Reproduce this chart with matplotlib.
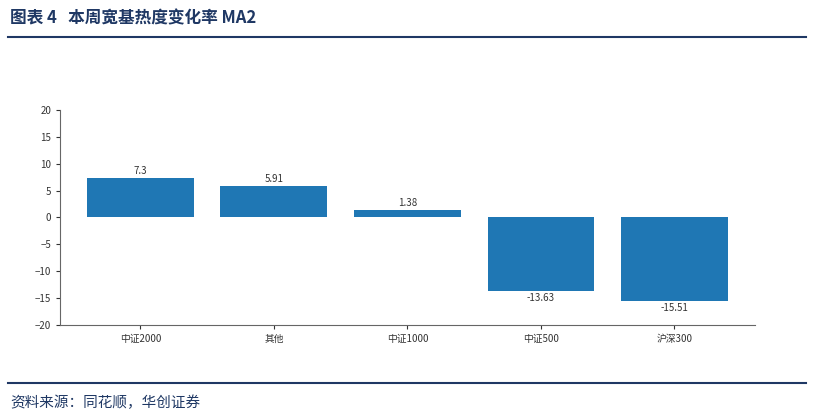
import matplotlib.pyplot as plt
from matplotlib.lines import Line2D

plt.rcParams['font.family'] = ['Noto Sans CJK SC', 'DejaVu Sans']

categories = ['中证2000', '其他', '中证1000', '中证500', '沪深300']
values = [7.3, 5.91, 1.38, -13.63, -15.51]
labels = ['7.3', '5.91', '1.38', '-13.63', '-15.51']

fig = plt.figure(figsize=(8.14, 4.15), dpi=100)
ax = fig.add_axes([0.074, 0.217, 0.853, 0.518])
ax.bar(range(len(values)), values, width=0.8, color='#1f77b4')
for i, (v, t) in enumerate(zip(values, labels)):
    if v >= 0:
        ax.text(i, v + 0.4, t, ha='center', va='bottom', fontsize=7, color='#333333')
    else:
        ax.text(i, v - 0.4, t, ha='center', va='top', fontsize=7, color='#333333')
ax.set_ylim(-20, 20)
ax.set_yticks(range(-20, 21, 5))
ax.set_xlim(-0.6, 4.6)
ax.set_xticks(range(len(categories)))
ax.set_xticklabels(categories)
ax.tick_params(labelsize=7, colors='#333333', length=3)
for s in ['top', 'right']:
    ax.spines[s].set_visible(False)
for s in ['left', 'bottom']:
    ax.spines[s].set_color('#666666')
    ax.spines[s].set_linewidth(0.8)

navy = '#1f3864'
fig.text(0.012, 0.955, '图表 4   本周宽基热度变化率 MA2', fontsize=12,
         fontweight='bold', color=navy, va='center')
fig.add_artist(Line2D([0.01, 0.99], [0.91, 0.91], color=navy, lw=1.5))
fig.add_artist(Line2D([0.01, 0.99], [0.077, 0.077], color=navy, lw=1.5))
fig.text(0.012, 0.03, '资料来源：同花顺，华创证券', fontsize=10.5,
         style='italic', color=navy, va='center')

fig.savefig('out.png', dpi=100)
